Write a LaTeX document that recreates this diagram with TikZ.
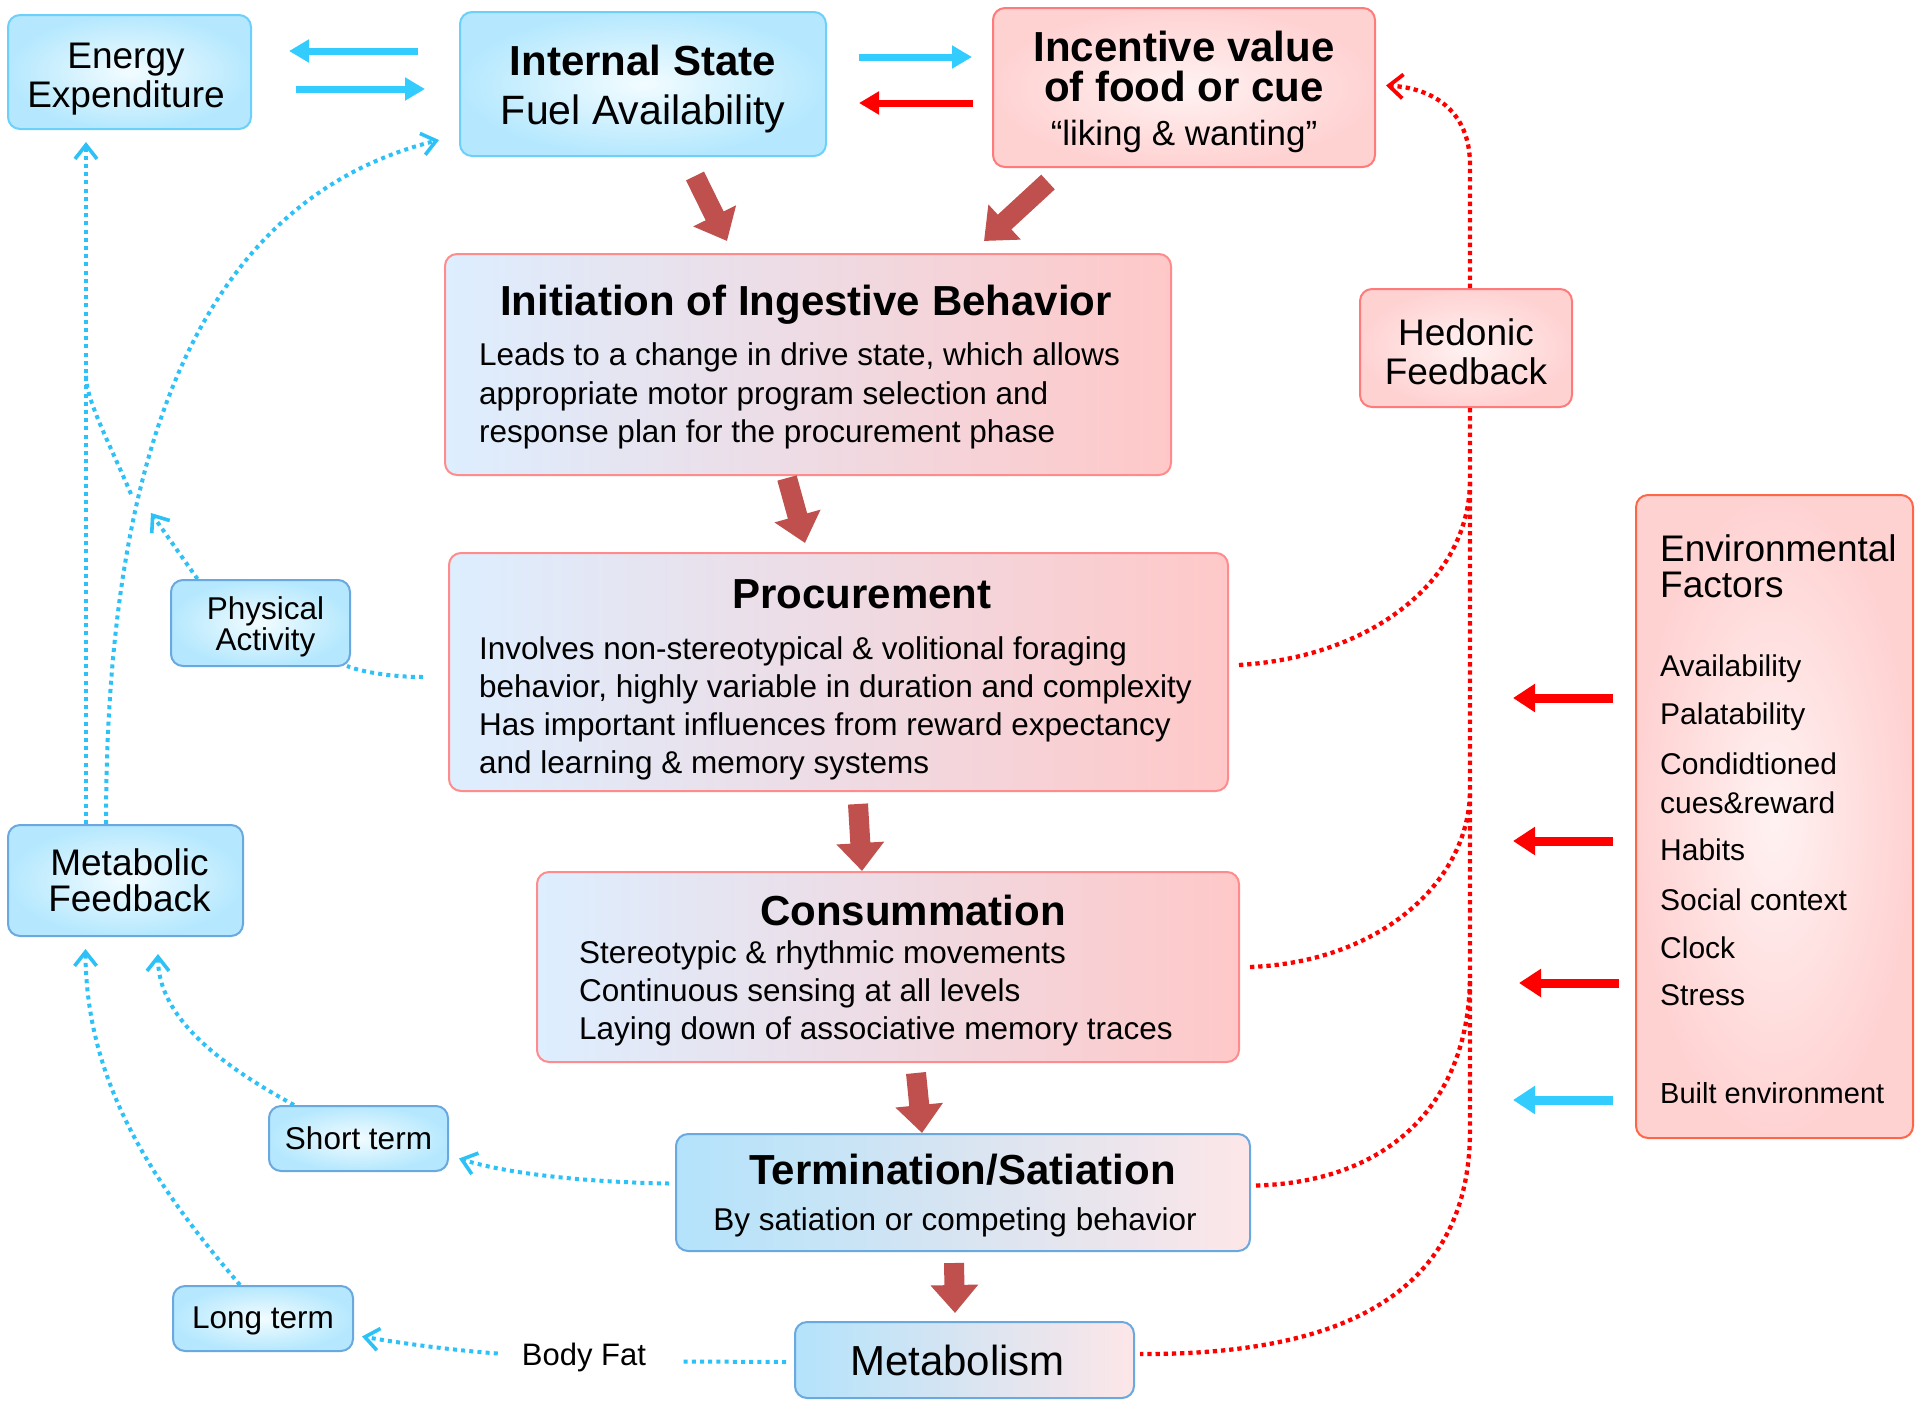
\documentclass[tikz,border=0pt]{standalone}
\usepackage{fontspec}
\setmainfont{Liberation Sans}
\usetikzlibrary{arrows.meta,calc}
\definecolor{bbd}{HTML}{6DD0FA}
\definecolor{bbdd}{HTML}{6AA8E0}
\definecolor{bin}{HTML}{F2FCFF}
\definecolor{bout}{HTML}{B5E8FE}
\definecolor{pbd}{HTML}{FF7A7A}
\definecolor{pin}{HTML}{FFF2F2}
\definecolor{pout}{HTML}{FFD2D2}
\definecolor{ebd}{HTML}{FF6648}
\definecolor{gbd}{HTML}{FF8C8C}
\definecolor{gl}{HTML}{DDEEFF}
\definecolor{gr}{HTML}{FFC8C8}
\definecolor{tl}{HTML}{B3E3FB}
\definecolor{tr}{HTML}{FDE6E8}
\definecolor{brick}{HTML}{C0504D}
\definecolor{arrblue}{HTML}{33CCFF}
\definecolor{dotblue}{HTML}{2CC2F7}
\definecolor{arrred}{HTML}{FF0000}
\newcommand\myfs[2]{\fontsize{#1}{#2}\selectfont}
\begin{document}
\begin{tikzpicture}[x=1pt,y=-1pt,
  box/.style={draw, rounded corners=12pt, line width=2pt, inner sep=0pt},
  bluebox/.style={box, draw=bbd, inner color=bin, outer color=bout},
  blueboxb/.style={box, draw=bbdd, inner color=bin, outer color=bout},
  pinkbox/.style={box, draw=pbd, inner color=pin, outer color=pout},
  envbox/.style={box, draw=ebd, inner color=pin, outer color=pout},
  gradbox/.style={box, draw=gbd, left color=gl, right color=gr},
  tmbox/.style={box, draw=bbdd, left color=tl, right color=tr},
  txt/.style={inner sep=0pt, align=center},
  blockarr/.style={draw=brick, line width=20pt, -{Triangle[length=28pt,width=46pt]}},
  barr/.style={draw=arrblue, line width=7pt, -{Triangle[length=20pt,width=22pt]}},
  rarr/.style={draw=arrred, line width=7pt, -{Triangle[length=20pt,width=22pt]}},
  rarrE/.style={draw=arrred, line width=9pt, -{Triangle[length=22pt,width=27pt]}},
  barrE/.style={draw=arrblue, line width=9pt, -{Triangle[length=22pt,width=27pt]}},
  bdot/.style={draw=dotblue, line width=4pt, dash pattern=on 4pt off 4.2pt},
  rdot/.style={draw=arrred, line width=4.3pt, dash pattern=on 4.3pt off 3.9pt},
  openhead/.style={-{Straight Barb[length=14pt,width=22pt,line width=3.6pt]}}
]
\useasboundingbox[fill=white] (0,0) rectangle (1920,1409);

% ---------- boxes ----------
\node[bluebox, minimum width=243pt, minimum height=114pt] (energy) at (129.5,72) {};
\node[txt, font=\myfs{37}{39.5}] (energyT) at ($(energy.center)+(-3.5,7)$) {Energy\\Expenditure};

\node[bluebox, minimum width=366pt, minimum height=144pt] (internal) at (643,84) {};
\node[txt, font=\myfs{42}{49}] (internalT) at ($(internal.center)+(0,5)$) {\textbf{Internal State}\\{\myfs{41}{49}Fuel Availability}};

\node[pinkbox, minimum width=382pt, minimum height=159pt] (incentive) at (1184,87.5) {};
\node[txt, font=\myfs{42}{40}] (incentiveT) at ($(incentive.center)+(0,4)$) {\textbf{Incentive value}\\\textbf{of food or cue}\\[4pt]{\myfs{35}{40}“liking \& wanting”}};

\node[pinkbox, minimum width=212pt, minimum height=118pt] (hedonic) at (1466,348) {};
\node[txt, font=\myfs{37}{39}] (hedonicT) at ($(hedonic.center)+(0,4)$) {Hedonic\\Feedback};

\node[gradbox, minimum width=726pt, minimum height=221pt] (init) at (808,364.5) {};
\node[txt, font=\myfs{42}{48}\bfseries] (initT) at (806,305) {Initiation of Ingestive Behavior};
\node[txt, font=\myfs{31.5}{38.5}, align=left, anchor=west] (initB) at (479,396) {Leads to a change in drive state, which allows\\appropriate motor program selection and\\response plan for the procurement phase};

\node[gradbox, minimum width=779pt, minimum height=238pt] (proc) at (838.5,672) {};
\node[txt, font=\myfs{42}{48}\bfseries] (procT) at (862,594) {Procurement};
\node[txt, font=\myfs{31.5}{38}, align=left, anchor=west] (procB) at (479,708.5) {Involves non-stereotypical \& volitional foraging\\behavior, highly variable in duration and complexity\\Has important influences from reward expectancy\\and learning \& memory systems};

\node[gradbox, minimum width=702pt, minimum height=190pt] (cons) at (888,967) {};
\node[txt, font=\myfs{42}{48}\bfseries] (consT) at (913,910) {Consummation};
\node[txt, font=\myfs{31.5}{38}, align=left, anchor=west] (consB) at (579,993.5) {Stereotypic \& rhythmic movements\\Continuous sensing at all levels\\Laying down of associative memory traces};

\node[tmbox, minimum width=574pt, minimum height=117pt] (term) at (963,1192.5) {};
\node[txt, font=\myfs{42}{48}\bfseries] (termT) at (962.5,1170) {Termination/Satiation};
\node[txt, font=\myfs{31.5}{38}] (termB) at (955,1222.5) {By satiation or competing behavior};

\node[tmbox, minimum width=339pt, minimum height=76pt] (metab) at (964.5,1360) {};
\node[txt, font=\myfs{42}{45}] (metabT) at ($(metab.center)+(-7,0)$) {Metabolism};

\node[envbox, minimum width=277pt, minimum height=643pt] (env) at (1774.5,816.5) {};
\node[txt, font=\myfs{37}{36}, align=left, anchor=west] (envT) at (1660,566) {Environmental\\Factors};
\foreach \yy/\tt [count=\i] in {669/Availability, 716.5/Palatability, 764/Condidtioned, 802.7/cues\&reward, 850/Habits, 900/Social context, 948/Clock, 995.5/Stress}
  \node[txt, font=\myfs{30}{36}, anchor=west] (env\i) at (1660,\yy) {\tt};
\node[txt, font=\myfs{29}{34}, anchor=west] (envbuilt) at (1660,1093) {Built environment};

\node[blueboxb, minimum width=179pt, minimum height=86pt] (pa) at (260.5,623) {};
\node[txt, font=\myfs{31.5}{29}] (paT) at ($(pa.center)+(5,4)$) {Physical\\Activity};
\node[blueboxb, minimum width=235pt, minimum height=111pt] (metfb) at (125.5,880.5) {};
\node[txt, font=\myfs{37}{35.5}] (metfbT) at ($(metfb.center)+(4,0)$) {Metabolic\\Feedback};
\node[blueboxb, minimum width=179pt, minimum height=65pt] (short) at (358.5,1138.5) {};
\node[txt, font=\myfs{31.5}{36}] (shortT) at (short.center) {Short term};
\node[blueboxb, minimum width=180pt, minimum height=65pt] (long) at (263,1318.5) {};
\node[txt, font=\myfs{31.5}{36}] (longT) at ($(long.center)+(0,2)$) {Long term};
\node[txt, font=\myfs{31}{36}] (bodyfat) at (584,1357.5) {Body Fat};

% ---------- block arrows ----------
\draw[blockarr] ($(internal.south)+(52,19)$) -- ($(init.north)+(-81,-12)$);
\draw[blockarr] ($(incentive.south)+(-136,14)$) -- ($(init.north)+(176,-12)$);
\draw[blockarr] ($(init.south)+(-21,2)$) -- ($(proc.north)+(-33.5,-9)$);
\draw[blockarr] ($(proc.south)+(19.5,12)$) -- ($(cons.north)+(-26,0)$);
\draw[blockarr] ($(cons.south)+(28,10)$) -- ($(term.north)+(-41,0)$);
\draw[blockarr] ($(term.south)+(-9,11)$) -- ($(metab.north)+(-9.5,-8)$);

% ---------- solid arrows ----------
\draw[barr] ($(internal.west)+(-41,-33)$) -- ($(energy.east)+(37,-21)$);
\draw[barr] ($(energy.east)+(44,17)$) -- ($(internal.west)+(-34,5)$);
\draw[barr] ($(internal.east)+(32,-27)$) -- ($(incentive.west)+(-20,-30.5)$);
\draw[rarr] ($(incentive.west)+(-19,15.5)$) -- ($(internal.east)+(32,19)$);

\coordinate (t1) at (1513,698);
\coordinate (t2) at (1513,841);
\coordinate (t3) at (1519,983);
\coordinate (t4) at (1513,1100);
\draw[rarrE] ($(env.west)+(-22,-118.5)$) -- (t1);
\draw[rarrE] ($(env.west)+(-22,24.5)$) -- (t2);
\draw[rarrE] ($(env.west)+(-16,166.5)$) -- (t3);
\draw[barrE] ($(env.west)+(-22,283.5)$) -- (t4);

% ---------- blue dotted ----------
\draw[bdot, openhead] ($(metfb.north)+(-39.5,0)$) -- ($(energy.south)+(-43.5,12)$);
\draw[bdot, openhead] ($(metfb.north)+(-19.5,0)$) .. controls (106,450) and (200,200) .. ($(internal.west)+(-20,56)$);
\coordinate (pamid) at (151,513);
\coordinate (pajoin) at (131,494);
\coordinate (vmerge) at (86,375);
\draw[bdot, openhead] ($(pa.north)+(-63,0)$) -- (pamid);
\draw[bdot] (pajoin) .. controls (108,440) and (86,400) .. (vmerge);
\draw[bdot] ($(proc.west)+(-25,5)$) .. controls (392,677) and (362,672) .. ($(pa.south east)+(-4,-1)$);
\draw[bdot, openhead] ($(term.west)+(-6,-9)$) .. controls (580,1182) and (505,1173) .. ($(short.east)+(10,20)$);
\draw[bdot, openhead] ($(short.north)+(-64.5,0)$) .. controls (215,1062) and (158,1015) .. ($(metfb.south)+(32.5,17)$);
\draw[bdot, openhead] ($(long.north)+(-23,0)$) .. controls (150,1180) and (86,1080) .. ($(metfb.south)+(-40,12)$);
\draw[bdot] ($(metab.west)+(-8,2)$) -- ($(bodyfat.east)+(37,4)$);
\draw[bdot, openhead] ($(bodyfat.west)+(-24,-4)$) .. controls (450,1350) and (400,1343) .. ($(long.east)+(8,18)$);

% ---------- red dotted ----------
\coordinate (vtop) at (1470,165);
\coordinate (vbot) at (1470,1130);
\coordinate (j1) at (1470,480);
\coordinate (j2) at (1470,790);
\coordinate (j3) at (1470,975);
\draw[rdot, -{Straight Barb[length=14pt,width=24pt,line width=3.8pt]}] ($(hedonic.north)+(4,0)$) -- (vtop) .. controls (1470,110) and (1432,88) .. ($(incentive.east)+(10,-2)$);
\draw[rdot] ($(hedonic.south)+(4,0)$) -- (vbot) .. controls (1470,1300) and (1332,1355) .. ($(metab.east)+(5,-6)$);
\draw[rdot] ($(term.east)+(5,-7)$) .. controls (1392,1182) and (1470,1100) .. (j3);
\draw[rdot] ($(cons.east)+(10,0)$) .. controls (1382,962) and (1470,880) .. (j2);
\draw[rdot] ($(proc.east)+(10,-7)$) .. controls (1372,657) and (1470,580) .. (j1);
\end{tikzpicture}
\end{document}
